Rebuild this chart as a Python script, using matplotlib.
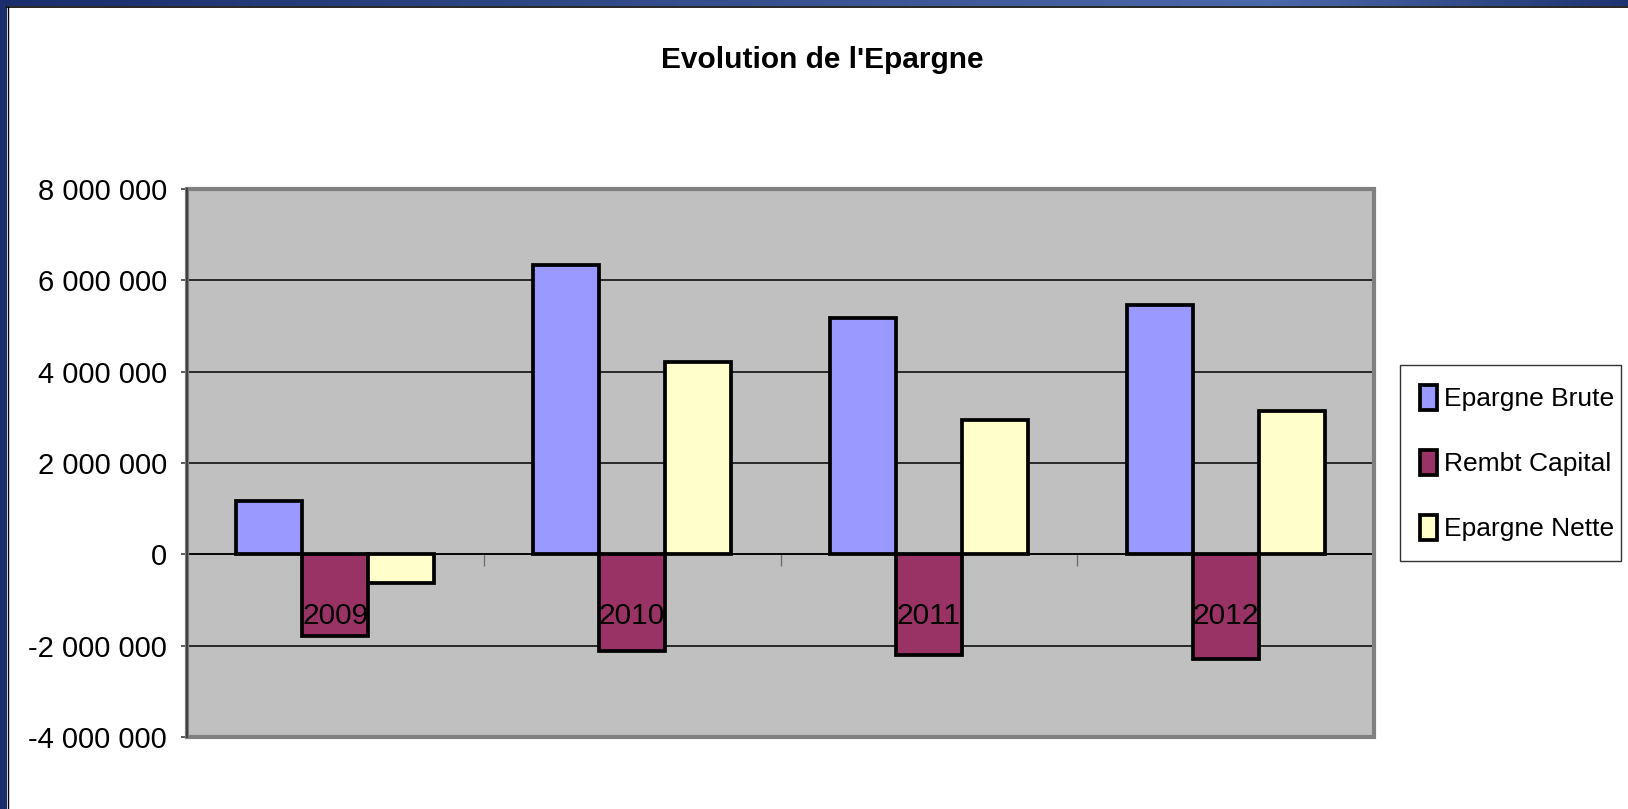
import numpy as np
import matplotlib
matplotlib.use("Agg")
import matplotlib.pyplot as plt
from matplotlib.patches import Rectangle
from matplotlib.colors import LinearSegmentedColormap
from matplotlib.ticker import FuncFormatter

plt.rcParams['font.family'] = ['Liberation Sans', 'DejaVu Sans']

years = ['2009', '2010', '2011', '2012']
epargne_brute = [1160000, 6330000, 5180000, 5470000]
rembt_capital = [-1790000, -2110000, -2210000, -2300000]
epargne_nette = [-630000, 4210000, 2950000, 3130000]

series_names = ['Epargne Brute', 'Rembt Capital', 'Epargne Nette']
series_colors = ['#9999FF', '#993366', '#FFFFCC']

W, H = 1628, 809
fig = plt.figure(figsize=(W / 100, H / 100), dpi=100)
fig.patch.set_facecolor('white')

# slide frame: navy band on the left, gradient band on top
fig.patches.append(Rectangle((0, 0), 7 / W, 1, transform=fig.transFigure,
                             facecolor='#1b2d6b', edgecolor='none', zorder=0))
top = fig.add_axes([0, 1 - 6 / H, 1, 6 / H])
g = np.interp(np.linspace(0, 1, 400), [0, 0.78, 1], [0, 1, 0.1])
top.imshow(g[np.newaxis, :], aspect='auto', extent=[0, 1, 0, 1],
           cmap=LinearSegmentedColormap.from_list('navy', ['#1b2d6b', '#4a69a8']))
top.axis('off')
fig.add_artist(plt.Line2D([7 / W, 1], [1 - 7 / H, 1 - 7 / H], color='black', lw=1.2))
fig.add_artist(plt.Line2D([7.5 / W, 7.5 / W], [0, 1 - 7 / H], color='black', lw=1.0))

ax = fig.add_axes([187 / W, 1 - 737 / H, (1374 - 187) / W, (737 - 189) / H])
ax.set_facecolor('#C0C0C0')

x = np.arange(len(years))
w = 2 / 9
for k, (vals, name, col) in enumerate(zip([epargne_brute, rembt_capital, epargne_nette],
                                          series_names, series_colors)):
    ax.bar(x + (k - 1) * w, vals, width=w, color=col, edgecolor='black',
           linewidth=2.7, label=name, zorder=3)

ax.set_xlim(-0.5, len(years) - 0.5)
ax.set_ylim(-4000000, 8000000)
ax.set_yticks(np.arange(-4000000, 8000001, 2000000))
ax.yaxis.set_major_formatter(FuncFormatter(lambda v, p: f"{int(v):,}".replace(',', ' ')))
ax.yaxis.grid(True, color='black', linewidth=1.1, zorder=1)
ax.set_axisbelow(True)
ax.tick_params(axis='y', labelsize=21, length=4.5, width=1.2, pad=10, color='#404040')

# category axis sits on the zero line
ax.spines['bottom'].set_position(('data', 0))
ax.spines['bottom'].set_color('black')
ax.spines['bottom'].set_linewidth(1.1)
ax.set_xticks(np.arange(len(years) + 1) - 0.5)
ax.set_xticklabels([])
ax.tick_params(axis='x', length=8.5, width=1.0, color='#707070', direction='out')
for i, yr in enumerate(years):
    ax.annotate(yr, (x[i], 0), xytext=(0, -50.4), textcoords='offset points',
                ha='center', va='baseline', fontsize=21.5, zorder=5)

for s in ['top', 'right']:
    ax.spines[s].set_visible(False)
ax.spines['left'].set_color('#404040')
ax.spines['left'].set_linewidth(1.5)
ax.add_patch(Rectangle((0, 0), 1, 1, transform=ax.transAxes, fill=False,
                       edgecolor='#808080', linewidth=3, clip_on=False, zorder=6))
ax.spines['left'].set_zorder(7)

fig.text(822 / W, 1 - 67.7 / H, "Evolution de l'Epargne", ha='center', va='baseline',
         fontsize=21.5, fontweight='bold')

leg = fig.legend(loc='upper left', bbox_to_anchor=(1400 / W, 1 - 365 / H, 221 / W, 0),
                 mode='expand', fontsize=19, frameon=True, fancybox=False,
                 edgecolor='black', handlelength=0.65, handleheight=1.1,
                 handletextpad=0.25, labelspacing=1.45, borderpad=0.75, borderaxespad=0)
leg.get_frame().set_linewidth(1.0)

fig.savefig('out.png', dpi=100, facecolor='white')
